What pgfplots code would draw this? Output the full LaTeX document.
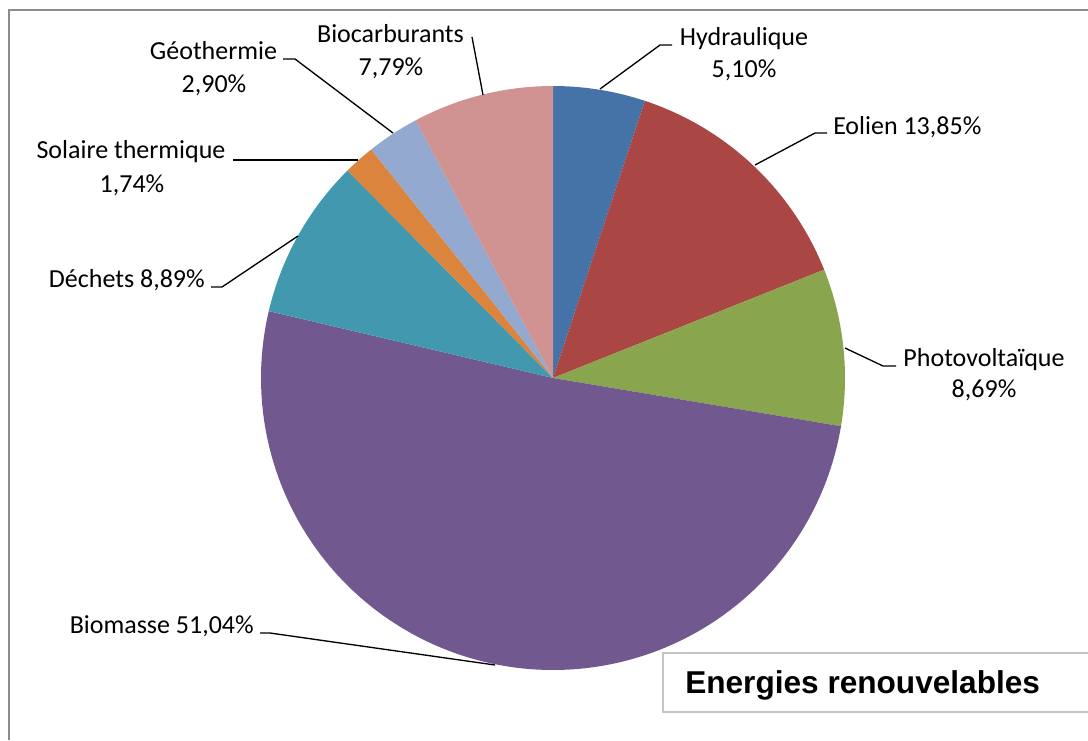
\documentclass[border=0pt]{standalone}
\usepackage{pgfplots}
\pgfplotsset{compat=1.18}
\usepackage{fontspec}
\setmainfont{Carlito}
\newfontfamily\titlefont{Liberation Sans}
\definecolor{cHyd}{HTML}{4573A7}
\definecolor{cEol}{HTML}{AA4644}
\definecolor{cPho}{HTML}{89A54E}
\definecolor{cBio}{HTML}{71588F}
\definecolor{cDec}{HTML}{4198AF}
\definecolor{cSol}{HTML}{DB843D}
\definecolor{cGeo}{HTML}{93A9CF}
\definecolor{cBcb}{HTML}{D19392}
\definecolor{frameg}{HTML}{8C8C8C}
\definecolor{boxg}{HTML}{C4C4C4}
\tikzset{lbl/.style={font=\fontsize{19.5pt}{24pt}\selectfont, inner sep=0pt, anchor=base}}
\begin{document}
\begin{tikzpicture}
\begin{axis}[
  hide axis, scale only axis,
  width=816pt, height=555pt,
  xmin=0, xmax=1088, ymin=0, ymax=740,
  y dir=reverse, clip=false,
  every axis plot/.append style={line join=round},
]
% percentages (clockwise from top): Hydraulique 5.10, Eolien 13.85, Photovoltaique 8.69,
% Biomasse 51.04, Dechets 8.89, Solaire thermique 1.74, Geothermie 2.90, Biocarburants 7.79
\addplot[fill=cHyd, draw=none, domain={90-3.6*5.10}:{90}, samples=40, variable=\t]
  ({553+292*cos(\t)},{378-292*sin(\t)}) -- (axis cs:553,378) -- cycle;
\addplot[fill=cEol, draw=none, domain={90-3.6*(5.10+13.85)}:{90-3.6*5.10}, samples=60, variable=\t]
  ({553+292*cos(\t)},{378-292*sin(\t)}) -- (axis cs:553,378) -- cycle;
\addplot[fill=cPho, draw=none, domain={90-3.6*(18.95+8.69)}:{90-3.6*18.95}, samples=40, variable=\t]
  ({553+292*cos(\t)},{378-292*sin(\t)}) -- (axis cs:553,378) -- cycle;
\addplot[fill=cBio, draw=none, domain={90-3.6*(27.64+51.04)}:{90-3.6*27.64}, samples=150, variable=\t]
  ({553+292*cos(\t)},{378-292*sin(\t)}) -- (axis cs:553,378) -- cycle;
\addplot[fill=cDec, draw=none, domain={90-3.6*(78.68+8.89)}:{90-3.6*78.68}, samples=40, variable=\t]
  ({553+292*cos(\t)},{378-292*sin(\t)}) -- (axis cs:553,378) -- cycle;
\addplot[fill=cSol, draw=none, domain={90-3.6*(87.57+1.74)}:{90-3.6*87.57}, samples=15, variable=\t]
  ({553+292*cos(\t)},{378-292*sin(\t)}) -- (axis cs:553,378) -- cycle;
\addplot[fill=cGeo, draw=none, domain={90-3.6*(89.31+2.90)}:{90-3.6*89.31}, samples=20, variable=\t]
  ({553+292*cos(\t)},{378-292*sin(\t)}) -- (axis cs:553,378) -- cycle;
\addplot[fill=cBcb, draw=none, domain={90-3.6*(92.21+7.79)}:{90-3.6*92.21}, samples=40, variable=\t]
  ({553+292*cos(\t)},{378-292*sin(\t)}) -- (axis cs:553,378) -- cycle;

% leader lines
\addplot[black, line width=1pt] coordinates {(600,89) (660,45) (672,45)};
\addplot[black, line width=1pt] coordinates {(755,165) (815,133) (827,133)};
\addplot[black, line width=1pt] coordinates {(845,348) (883,366) (896,366)};
\addplot[black, line width=1pt] coordinates {(495,665) (270,633) (260,633)};
\addplot[black, line width=1pt] coordinates {(298,236) (222,287) (211,287)};
\addplot[black, line width=1pt] coordinates {(358,160) (233,160)};
\addplot[black, line width=1pt] coordinates {(393,133) (295,59) (283,59)};
\addplot[black, line width=1pt] coordinates {(483,95) (472,37)};

% labels
\node[lbl] at (axis cs:744,45) {Hydraulique};
\node[lbl] at (axis cs:744,77) {5,10\%};
\node[lbl, anchor=base west] at (axis cs:833,134) {Eolien 13,85\%};
\node[lbl] at (axis cs:984,366) {Photovoltaïque};
\node[lbl] at (axis cs:984,397) {8,69\%};
\node[lbl, anchor=base east] at (axis cs:254,633) {Biomasse 51,04\%};
\node[lbl, anchor=base east] at (axis cs:205,287) {Déchets 8,89\%};
\node[lbl] at (axis cs:131,158) {Solaire thermique};
\node[lbl] at (axis cs:132,192) {1,74\%};
\node[lbl] at (axis cs:213.5,59) {Géothermie};
\node[lbl] at (axis cs:214,92) {2,90\%};
\node[lbl] at (axis cs:390.5,42) {Biocarburants};
\node[lbl] at (axis cs:391,75) {7,79\%};

% frame and title box
\draw[frameg, line width=1.3pt] (axis cs:9,740) -- (axis cs:9,10) -- (axis cs:1088,10);
\draw[boxg, line width=1.1pt] (axis cs:1088,653) -- (axis cs:663,653) -- (axis cs:663,712) -- (axis cs:1088,712);
\node[inner sep=0pt, anchor=base west, font=\titlefont\bfseries\fontsize{23.7pt}{28pt}\selectfont] at (axis cs:685,693) {Energies renouvelables};
\end{axis}
\pgfresetboundingbox
\path (0,0) rectangle (816pt,555pt);
\end{tikzpicture}
\end{document}
